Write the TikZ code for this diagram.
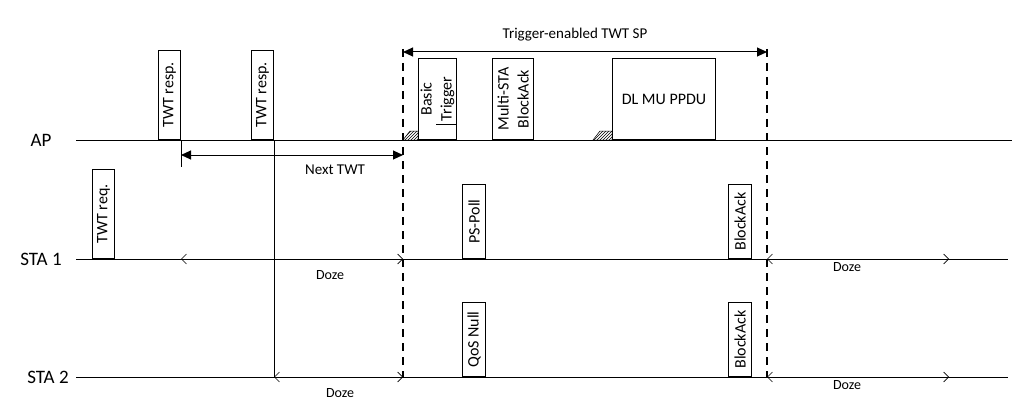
\documentclass[tikz,border=0pt]{standalone}
\usepackage{fontspec}
\setmainfont{Carlito}
\usetikzlibrary{arrows.meta,patterns}
\begin{document}
\begin{tikzpicture}[x=1pt,y=1pt,line width=1pt,
  frm/.style={draw,rotate=90,anchor=north west,inner sep=0pt,align=center,font=\fontsize{16}{20}\selectfont},
  lab/.style={font=\fontsize{19}{22}\selectfont},
  txt/.style={font=\fontsize{15}{18}\selectfont},
  dz/.style={font=\fontsize{14}{16}\selectfont},
  sp/.style={dash pattern=on 8pt off 6pt,line width=2pt},
  span/.style={{Triangle[length=10pt,width=9pt]}-{Triangle[length=10pt,width=9pt]}},
  doze/.style={{Straight Barb[length=5pt,width=10pt]}-{Straight Barb[length=5pt,width=10pt]},line width=0.6pt},
  hatch/.style={draw,line width=0.5pt,pattern=north east lines}]
\pgfmathsetmacro{\yA}{276}
\pgfmathsetmacro{\yB}{157}
\pgfmathsetmacro{\yC}{39}
\pgfmathsetmacro{\tS}{403}
\pgfmathsetmacro{\tE}{767}
\useasboundingbox(0,0)rectangle(1026,416);
\node[lab](ap)at(41,\yA){AP};
\node[lab](sta1)at(41,\yB){STA 1};
\node[lab](sta2)at(48,\yC){STA 2};
\coordinate(apL)at(76,\yA);\coordinate(apR)at(1012,\yA);
\coordinate(s1L)at(76,\yB);\coordinate(s1R)at(1008,\yB);
\coordinate(s2L)at(76,\yC);\coordinate(s2R)at(1008,\yC);
\draw(apL)--(apR);
\draw(s1L)--(s1R);
\draw(s2L)--(s2R);
\node[frm,minimum width=89pt,minimum height=22pt](resp1)at(158,\yA){TWT resp.};
\node[frm,minimum width=89pt,minimum height=22pt](resp2)at(251,\yA){TWT resp.};
\node[frm,minimum width=89pt,minimum height=22pt](req)at(92,\yB){TWT req.};
\node[frm,minimum width=81pt,minimum height=38pt](trig)at(418,\yA){Basic\\Trigger};
\node[frm,minimum width=81pt,minimum height=41pt](msba)at(492,\yA){Multi-STA\\BlockAck};
\node[draw,anchor=south west,inner sep=0pt,minimum width=103pt,minimum height=81pt,font=\fontsize{16}{20}\selectfont](dlmu)at(612,\yA){DL MU PPDU};
\node[frm,minimum width=74pt,minimum height=23pt](poll)at(462,\yB){PS-Poll};
\node[frm,minimum width=74pt,minimum height=23pt](qos)at(462,\yC){QoS Null};
\node[frm,minimum width=74pt,minimum height=23pt](ba1)at(728,\yB){BlockAck};
\node[frm,minimum width=74pt,minimum height=23pt](ba2)at(728,\yC){BlockAck};
\draw(436,292)--(457,292);
\coordinate(spT)at(\tS,367);\coordinate(spB)at(\tS,\yC);
\coordinate(epT)at(\tE,367);\coordinate(epB)at(\tE,\yC);
\draw[sp](spT)--(spB);
\draw[sp](epT)--(epB);
\coordinate(spA)at(\tS,364);\coordinate(epA)at(\tE,364);
\draw[span](spA)--(epA);
\node[txt](sp)at(575,381){Trigger-enabled TWT SP};
\draw[hatch](spT|-apL)--++(7,9)-|(trig.north west)--cycle;
\draw[hatch](593,\yA)--++(7,9)-|(dlmu.south west)--cycle;
\draw(resp1.south west)--++(0,-27)coordinate(nt0);
\draw(resp2.south west)--(resp2.south west|-s2L)coordinate(nt1);
\coordinate(ntA)at(resp1.south west|-0,261);
\draw[span](ntA)--(ntA-|spT);
\node[txt](next)at(335,246){Next TWT};
\draw[doze](resp1.south west|-s1L)--(s1L-|spT);
\node[dz](dz1)at(330,141){Doze};
\draw[doze](nt1)--(s2L-|spT);
\node[dz](dz2)at(340,23){Doze};
\coordinate(e1)at(949,\yB);\coordinate(e2)at(949,\yC);
\draw[doze](s1L-|epT)--(e1);
\node[dz](dz3)at(847,149){Doze};
\draw[doze](s2L-|epT)--(e2);
\node[dz](dz4)at(847,31){Doze};
\end{tikzpicture}
\end{document}
